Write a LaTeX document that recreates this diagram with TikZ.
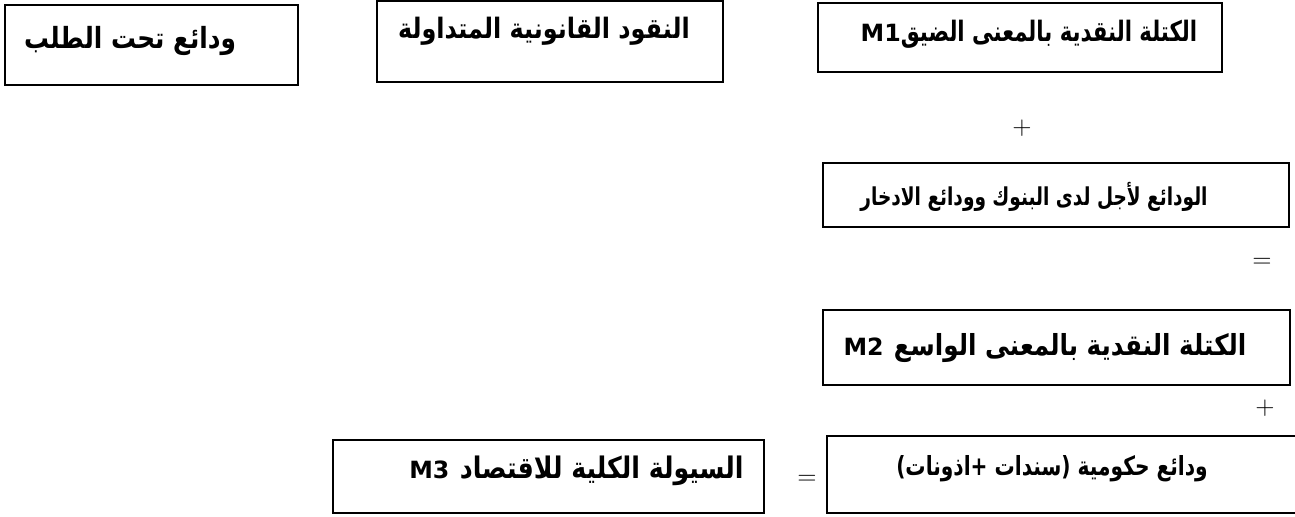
\documentclass[tikz,border=0pt]{standalone}
\usepackage{fontspec}
\newfontfamily\arabicfont[Script=Arabic]{DejaVu Sans}
\TeXXeTstate=1
\newcommand{\squeeze}[2][0.85]{\scalebox{#1}[1]{#2}}
\newcommand{\mname}[1]{{\fontsize{13.5}{13.5}\selectfont #1}}
\begin{document}
\begin{tikzpicture}[x=1cm,y=1cm,
  box/.style={line width=1.1pt},
  lbl/.style={inner sep=0pt,font=\arabicfont\bfseries\fontsize{#1}{#1}\selectfont},
  sign/.style={inner sep=0pt,font=\Large}]
\clip (0,0) rectangle (25.9,10.32);

% top row
\draw[box] (0.1,10.22) rectangle (5.96,8.62);
\draw[box] (7.54,10.30) rectangle (14.46,8.68);
\draw[box] (16.36,10.26) rectangle (24.44,8.88);
\node[lbl=16.6] (demand) at (2.6,9.5) {\squeeze{\beginR ودائع تحت الطلب\endR}};
\node[lbl=16] (cash) at (10.88,9.7) {\squeeze{\beginR النقود القانونية المتداولة\endR}};
\node[lbl=16] (narrow) at (20.58,9.64) {\mname{M1}\squeeze[0.755]{\beginR الكتلة النقدية بالمعنى الضيق\endR}};

\node[sign] (plusa) at (20.44,7.76) {$+$};

% right column
\draw[box] (16.46,7.06) rectangle (25.78,5.78);
\node[lbl=14] (time) at (20.68,6.38) {\squeeze[0.753]{\beginR الودائع لأجل لدى البنوك وودائع الادخار\endR}};

\node[sign] (eqa) at (25.24,5.06) {$=$};

\draw[box] (16.46,4.12) rectangle (25.80,2.62);
\node[lbl=16.5] (broad) at (20.9,3.36) {\mname{M2} \squeeze{\beginR الكتلة النقدية بالمعنى الواسع\endR}};

\node[sign] (plusb) at (25.30,2.16) {$+$};

% bottom row
\draw[box] (16.54,1.60) rectangle (26.2,0.06);
\node[lbl=15] (gov) at (21.04,0.94) {\squeeze[0.765]{\beginR ودائع حكومية (سندات +اذونات)\endR}};

\node[sign] (eqb) at (16.14,0.72) {$=$};

\draw[box] (6.66,1.52) rectangle (15.28,0.06);
\node[lbl=16.9] (total) at (11.53,0.9) {\mname{M3} \squeeze{\beginR السيولة الكلية للاقتصاد\endR}};
\end{tikzpicture}
\end{document}
